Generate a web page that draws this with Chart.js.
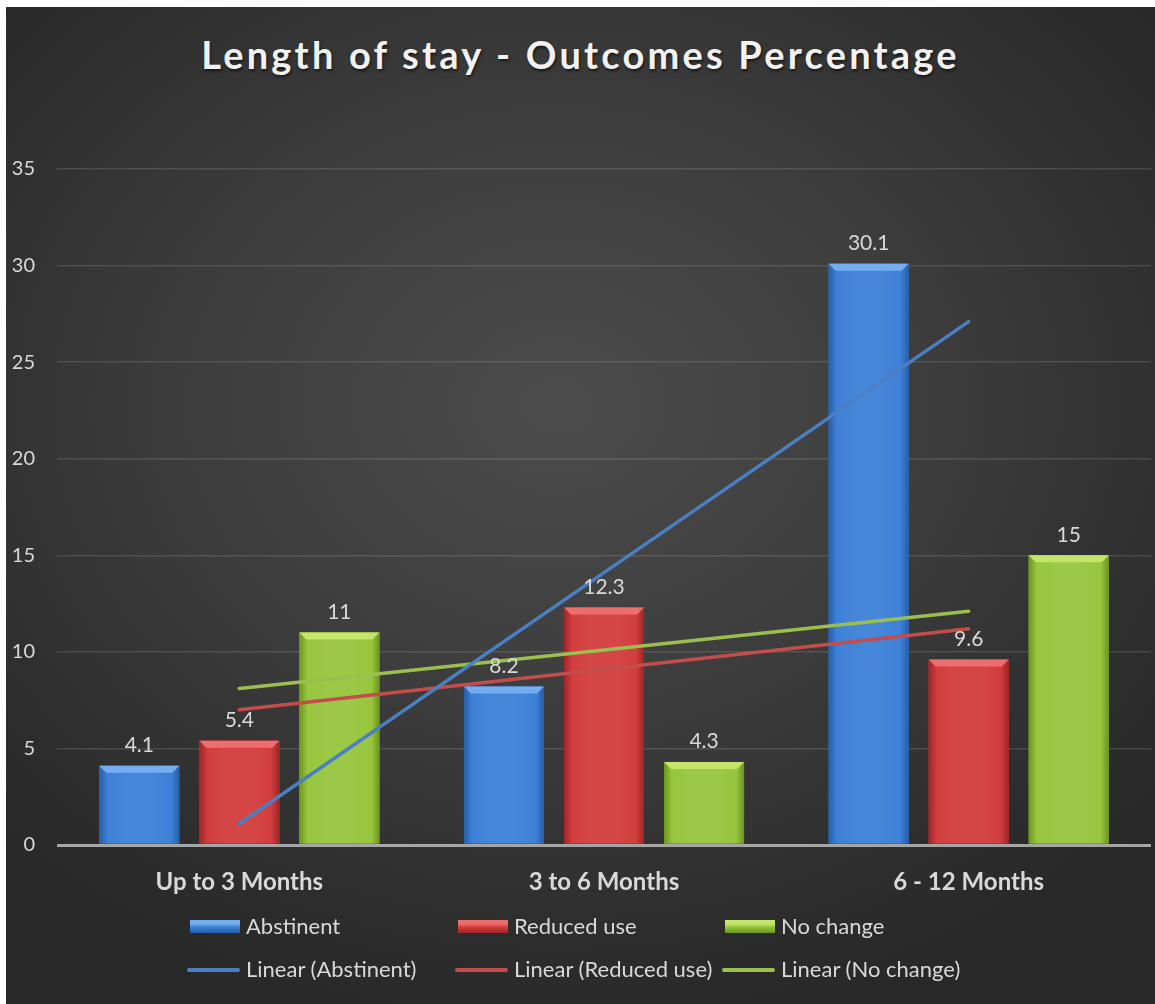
<!DOCTYPE html>
<html>
<head>
<meta charset="utf-8">
<script src="https://cdn.jsdelivr.net/npm/chart.js@4.4.1/dist/chart.umd.min.js"></script>
<style>
  html, body { margin: 0; padding: 0; background: #fff; }
  #frame {
    position: absolute; left: 6px; top: 7px; width: 1149px; height: 997px;
    background: radial-gradient(ellipse 70% 65% at 48% 40%, #4c4c4c 0%, #3d3d3d 45%, #2c2c2c 85%, #282828 100%);
    font-family: Lato, 'Open Sans', sans-serif;
  }
  #title {
    position: absolute; left: 0; width: 100%; top: 24px; text-align: center;
    color: #f2f2f2; font-weight: bold; font-size: 38px; letter-spacing: 3.2px;
    text-shadow: 1px 2px 3px rgba(0,0,0,0.6);
  }
  #chart { position: absolute; left: 0; top: 0; }
  .lg { position: absolute; color: #d9d9d9; font-size: 22px; line-height: 26px; }
  .lg i { position: absolute; display: block; }
</style>
</head>
<body>
<div id="frame">
  <div id="title">Length of stay - Outcomes Percentage</div>
  <canvas id="chart" width="1149" height="997"></canvas>
  <div id="legend"></div>
</div>
<script>
const categories = ['Up to 3 Months', '3 to 6 Months', '6 - 12 Months'];
const abstinent = [4.1, 8.2, 30.1];
const reducedUse = [5.4, 12.3, 9.6];
const noChange = [11, 4.3, 15];
// trendline values at each category
const trendAbstinent = [1.1, 14.1, 27.1];
const trendReducedUse = [7.0, 9.1, 11.2];
const trendNoChange = [8.1, 10.1, 12.1];
const yTicks = [0, 5, 10, 15, 20, 25, 30, 35];

const barStyles = {
    'Abstinent':   { base: '#3b7fd7', light: '#74aef0', dark: '#285ea6' },
    'Reduced use': { base: '#d23b3b', light: '#ee6e6e', dark: '#9c2727' },
    'No change':   { base: '#96c53b', light: '#c3e66a', dark: '#6b961f' }
};
const lineColors = {
    'Abstinent': '#4a7fc1',
    'Reduced use': '#c24d4b',
    'No change': '#99bf4f'
};

// bevel look for the bars, drawn over each bar element
const bevelPlugin = {
    id: 'bevel',
    afterDatasetDraw(chart, args) {
        const ds = chart.data.datasets[args.index];
        if (ds.type === 'line') return;
        const st = barStyles[ds.label];
        const ctx = chart.ctx;
        args.meta.data.forEach(bar => {
            const l = bar.x - bar.width / 2, r = bar.x + bar.width / 2;
            const t = bar.y, b = bar.base;
            const e = 7;
            ctx.save();
            let g = ctx.createLinearGradient(l, 0, r, 0);
            g.addColorStop(0, st.dark);
            g.addColorStop(0.1, st.base);
            g.addColorStop(0.5, st.base);
            g.addColorStop(0.9, st.base);
            g.addColorStop(1, st.dark);
            ctx.fillStyle = g;
            ctx.fillRect(l, t, r - l, b - t);
            g = ctx.createLinearGradient(l, 0, r, 0);
            g.addColorStop(0, 'rgba(255,255,255,0)');
            g.addColorStop(0.35, 'rgba(255,255,255,0.06)');
            g.addColorStop(0.65, 'rgba(255,255,255,0.06)');
            g.addColorStop(1, 'rgba(255,255,255,0)');
            ctx.fillStyle = g;
            ctx.fillRect(l + e, t + e, r - l - 2 * e, b - t - e);
            // top bevel
            ctx.beginPath();
            ctx.moveTo(l, t); ctx.lineTo(r, t); ctx.lineTo(r - e, t + e); ctx.lineTo(l + e, t + e);
            ctx.closePath();
            ctx.fillStyle = st.light;
            ctx.fill();
            ctx.restore();
        });
    }
};

// value labels above the bars
const valueLabels = {
    id: 'valueLabels',
    afterDatasetsDraw(chart) {
        const ctx = chart.ctx;
        ctx.save();
        ctx.font = '21px Lato, sans-serif';
        ctx.fillStyle = '#d9d9d9';
        ctx.textAlign = 'center';
        ctx.textBaseline = 'bottom';
        chart.data.datasets.forEach((ds, i) => {
            if (ds.type === 'line') return;
            chart.getDatasetMeta(i).data.forEach((bar, j) => {
                ctx.fillText(String(ds.data[j]), bar.x, bar.y - 10);
            });
        });
        ctx.restore();
    }
};

function barSet(label, data) {
    return {
        type: 'bar', label: label, data: data, order: 2,
        backgroundColor: barStyles[label].base,
        barPercentage: 0.8, categoryPercentage: 0.823
    };
}
function trendSet(label, data) {
    return {
        type: 'line', label: 'Linear (' + label + ')', data: data, order: 0,
        borderColor: lineColors[label], borderWidth: 3.5, pointRadius: 0,
        borderCapStyle: 'round', fill: false, tension: 0
    };
}

new Chart(document.getElementById('chart'), {
    data: {
        labels: categories,
        datasets: [
            barSet('Abstinent', abstinent),
            barSet('Reduced use', reducedUse),
            barSet('No change', noChange),
            trendSet('Abstinent', trendAbstinent),
            trendSet('Reduced use', trendReducedUse),
            trendSet('No change', trendNoChange)
        ]
    },
    options: {
        responsive: false,
        animation: false,
        layout: { padding: { top: 162, right: 4, bottom: 99, left: 0 } },
        plugins: { legend: { display: false }, tooltip: { enabled: false } },
        scales: {
            x: {
                grid: { display: false },
                border: { display: false },
                ticks: { color: '#d9d9d9', padding: 15, font: { family: 'Lato', size: 24, weight: 'bold' } },
                afterFit(s) { s.height = 60; }
            },
            y: {
                min: 0, max: 35,
                afterBuildTicks(s) { s.ticks = yTicks.map(v => ({ value: v })); },
                border: { display: false },
                grid: {
                    drawTicks: false,
                    color: c => c.tick && c.tick.value === 0 ? '#a6a6a6' : 'rgba(255,255,255,0.13)',
                    lineWidth: c => c.tick && c.tick.value === 0 ? 3 : 1.5
                },
                ticks: { color: '#d9d9d9', padding: 22, font: { family: 'Lato', size: 20 } },
                afterFit(s) { s.width = 51; }
            }
        }
    },
    plugins: [bevelPlugin, valueLabels]
});

// legend in two rows, like the original
const legendItems = [
    { text: 'Abstinent', kind: 'box', key: 'Abstinent', x: 184, y: 906 },
    { text: 'Reduced use', kind: 'box', key: 'Reduced use', x: 452, y: 906 },
    { text: 'No change', kind: 'box', key: 'No change', x: 719, y: 906 },
    { text: 'Linear (Abstinent)', kind: 'line', key: 'Abstinent', x: 181, y: 949 },
    { text: 'Linear (Reduced use)', kind: 'line', key: 'Reduced use', x: 449, y: 949 },
    { text: 'Linear (No change)', kind: 'line', key: 'No change', x: 716, y: 949 }
];
const legend = document.getElementById('legend');
legendItems.forEach(it => {
    const el = document.createElement('div');
    el.className = 'lg';
    el.style.left = it.x + 'px';
    el.style.top = it.y + 'px';
    el.style.paddingLeft = (it.kind === 'box' ? 56 : 59) + 'px';
    const m = document.createElement('i');
    if (it.kind === 'box') {
        const st = barStyles[it.key];
        m.style.cssText = 'left:0;top:7px;width:50px;height:13px;background:linear-gradient(' +
            st.light + ' 0%,' + st.light + ' 30%,' + st.base + ' 55%,' + st.dark + ' 100%);';
    } else {
        m.style.cssText = 'left:0;top:12px;width:53px;height:4px;border-radius:2px;background:' + lineColors[it.key] + ';';
    }
    el.appendChild(m);
    el.appendChild(document.createTextNode(it.text));
    legend.appendChild(el);
});
</script>
</body>
</html>
